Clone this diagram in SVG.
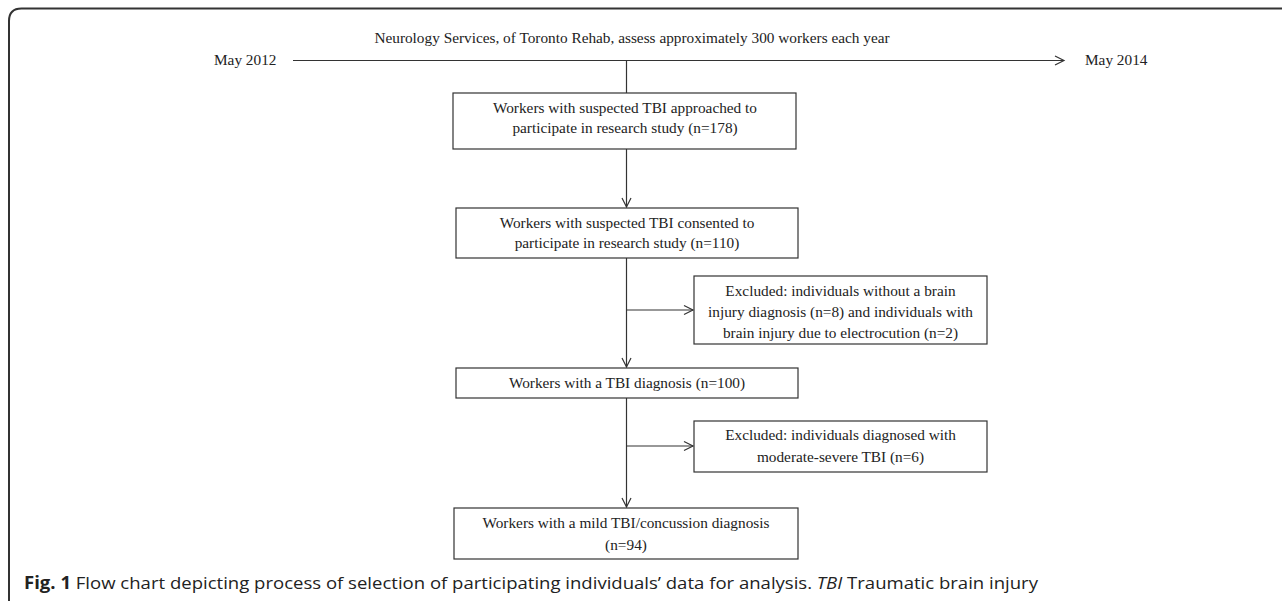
<svg xmlns="http://www.w3.org/2000/svg" width="1282" height="601" viewBox="0 0 1282 601">
  <style>
    .box { fill: #ffffff; stroke: #333333; stroke-width: 1.2; }
    .t { font-family: "Liberation Serif", "Times New Roman", serif; font-size: 15.3px; fill: #222222; text-anchor: middle; }
    .tl { font-family: "Liberation Serif", "Times New Roman", serif; font-size: 15.3px; fill: #222222; }
    .ln { fill: none; stroke: #333333; stroke-width: 1.2; }
    .cap { font-family: "Open Sans", "Liberation Sans", sans-serif; font-size: 17px; fill: #222222; }
  </style>
  <defs>
    <marker id="arr" markerUnits="userSpaceOnUse" markerWidth="12" markerHeight="12" refX="9" refY="4.5" orient="auto" overflow="visible">
      <path d="M0,0 L9,4.5 L0,9" fill="none" stroke="#333333" stroke-width="1.2"/>
    </marker>
  </defs>
  <rect width="1282" height="601" fill="#ffffff"/>
  <path d="M9,601 L9,21 Q9,8.5 21.5,8.5 L1282,8.5" fill="none" stroke="#333333" stroke-width="2"/>

  <g id="header">
    <text class="t" x="632" y="43">Neurology Services, of Toronto Rehab, assess approximately 300 workers each year</text>
    <text class="tl" x="214" y="65">May 2012</text>
    <text class="tl" x="1085" y="65">May 2014</text>
  </g>

  <g id="connectors">
    <line class="ln" x1="293" y1="60.5" x2="1064" y2="60.5" marker-end="url(#arr)"/>
    <line class="ln" x1="626.5" y1="60.5" x2="626.5" y2="93"/>
    <line class="ln" x1="626.5" y1="149" x2="626.5" y2="207" marker-end="url(#arr)"/>
    <line class="ln" x1="626.5" y1="258" x2="626.5" y2="367" marker-end="url(#arr)"/>
    <line class="ln" x1="626.5" y1="310" x2="693" y2="310" marker-end="url(#arr)"/>
    <line class="ln" x1="626.5" y1="398" x2="626.5" y2="507" marker-end="url(#arr)"/>
    <line class="ln" x1="626.5" y1="446" x2="693" y2="446" marker-end="url(#arr)"/>
  </g>

  <g id="approached">
    <rect class="box" x="453" y="93" width="343" height="56"/>
    <text class="t" x="625" y="113">Workers with suspected TBI approached to</text>
    <text class="t" x="625" y="133">participate in research study (n=178)</text>
  </g>
  <g id="consented">
    <rect class="box" x="456" y="208" width="342" height="50"/>
    <text class="t" x="627" y="228">Workers with suspected TBI consented to</text>
    <text class="t" x="627" y="248">participate in research study (n=110)</text>
  </g>
  <g id="excluded1">
    <rect class="box" x="694" y="276" width="293" height="68"/>
    <text class="t" x="840.5" y="295.5">Excluded: individuals without a brain</text>
    <text class="t" x="840.5" y="316.5">injury diagnosis (n=8) and individuals with</text>
    <text class="t" x="840.5" y="337.5">brain injury due to electrocution (n=2)</text>
  </g>
  <g id="tbi">
    <rect class="box" x="456" y="368" width="342" height="30"/>
    <text class="t" x="627" y="388">Workers with a TBI diagnosis (n=100)</text>
  </g>
  <g id="excluded2">
    <rect class="box" x="694" y="421" width="293" height="51"/>
    <text class="t" x="840.5" y="440">Excluded: individuals diagnosed with</text>
    <text class="t" x="840.5" y="461.5">moderate-severe TBI (n=6)</text>
  </g>
  <g id="mild">
    <rect class="box" x="454" y="508" width="344" height="51"/>
    <text class="t" x="626" y="528">Workers with a mild TBI/concussion diagnosis</text>
    <text class="t" x="626" y="549.5">(n=94)</text>
  </g>

  <text class="cap" x="24" y="589" textLength="1014" lengthAdjust="spacingAndGlyphs"><tspan font-weight="bold">Fig. 1</tspan> Flow chart depicting process of selection of participating individuals’ data for analysis. <tspan font-style="italic">TBI</tspan> Traumatic brain injury</text>
</svg>
